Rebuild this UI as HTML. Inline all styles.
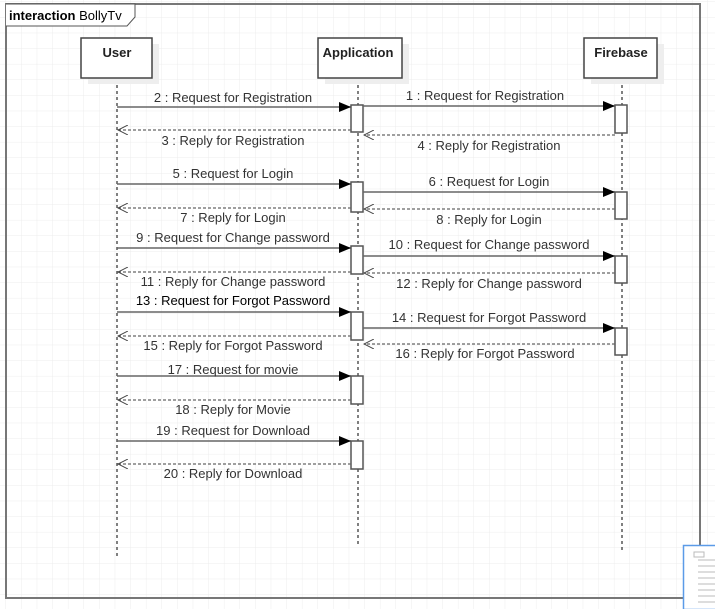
<!DOCTYPE html>
<html><head><style>body{margin:0;background:#fff}</style></head><body>
<svg width="715" height="609" xmlns="http://www.w3.org/2000/svg" font-family="Liberation Sans, sans-serif" font-size="13" fill="#333">
<defs>
<pattern id="g" width="15.6" height="15.6" patternUnits="userSpaceOnUse" x="6" y="2"><path d="M15.6 0V15.6H0" fill="none" stroke="#ececec" stroke-width="1"/></pattern>
<marker id="f" markerWidth="12" markerHeight="10" refX="12" refY="5" orient="auto" markerUnits="userSpaceOnUse"><path d="M0 0L12 5L0 10z" fill="#000"/></marker>
<marker id="o" markerWidth="11" markerHeight="10" refX="10" refY="5" orient="auto" markerUnits="userSpaceOnUse"><path d="M0 0L10 5L0 10" fill="none" stroke="#444" stroke-width="1"/></marker>
</defs>
<rect width="715" height="609" fill="url(#g)"/>
<rect x="6" y="4" width="694" height="594" fill="none" stroke="#777" stroke-width="2"/>
<path d="M6 4H135V17L127 26H6" fill="#fff" stroke="#555" stroke-width="1"/>
<text x="9" y="20" font-size="13" fill="#000"><tspan font-weight="bold">interaction</tspan> BollyTv</text>
<g stroke="#000" stroke-dasharray="3,3" stroke-width="1">
<line x1="117" y1="79" x2="117" y2="556"/><line x1="358" y1="79" x2="358" y2="545"/><line x1="622" y1="79" x2="622" y2="550"/>
</g>
<g fill="#eee"><rect x="88" y="44" width="71" height="40"/><rect x="325" y="44" width="84" height="40"/><rect x="591" y="44" width="73" height="40"/></g>
<g fill="#fff" stroke="#444" stroke-width="1.5"><rect x="81" y="38" width="71" height="40"/><rect x="318" y="38" width="84" height="40"/><rect x="584" y="38" width="73" height="40"/></g>
<g font-weight="bold" font-size="13" fill="#222" text-anchor="middle"><text x="117" y="57">User</text><text x="358" y="57">Application</text><text x="621" y="57">Firebase</text></g>
<g fill="#fff" stroke="#555" stroke-width="1.5">
<rect x="351" y="105" width="12" height="27"/><rect x="615" y="105" width="12" height="28"/>
<rect x="351" y="182" width="12" height="30"/><rect x="615" y="192" width="12" height="27"/>
<rect x="351" y="246" width="12" height="28"/><rect x="615" y="256" width="12" height="27"/>
<rect x="351" y="312" width="12" height="28"/><rect x="615" y="328" width="12" height="27"/>
<rect x="351" y="376" width="12" height="28"/><rect x="351" y="441" width="12" height="28"/>
</g>
<g stroke="#666" stroke-width="1.5" marker-end="url(#f)">
<line x1="117" y1="107" x2="351" y2="107"/><line x1="363" y1="106" x2="615" y2="106"/>
<line x1="117" y1="184" x2="351" y2="184"/><line x1="363" y1="192" x2="615" y2="192"/>
<line x1="117" y1="248" x2="351" y2="248"/><line x1="363" y1="256" x2="615" y2="256"/>
<line x1="117" y1="312" x2="351" y2="312"/><line x1="363" y1="328" x2="615" y2="328"/>
<line x1="117" y1="376" x2="351" y2="376"/><line x1="117" y1="441" x2="351" y2="441"/>
</g>
<g stroke="#666" stroke-width="1.2" stroke-dasharray="3,2" marker-end="url(#o)">
<line x1="351" y1="130" x2="118" y2="130"/><line x1="615" y1="135" x2="364" y2="135"/>
<line x1="351" y1="208" x2="118" y2="208"/><line x1="615" y1="209" x2="364" y2="209"/>
<line x1="351" y1="272" x2="118" y2="272"/><line x1="615" y1="273" x2="364" y2="273"/>
<line x1="351" y1="336" x2="118" y2="336"/><line x1="615" y1="344" x2="364" y2="344"/>
<line x1="351" y1="400" x2="118" y2="400"/><line x1="351" y1="464" x2="118" y2="464"/>
</g>
<g text-anchor="middle">
<text x="233" y="102">2 : Request for Registration</text><text x="485" y="100">1 : Request for Registration</text>
<text x="233" y="145">3 : Reply for Registration</text><text x="489" y="150">4 : Reply for Registration</text>
<text x="233" y="178">5 : Request for Login</text><text x="489" y="186">6 : Request for Login</text>
<text x="233" y="222">7 : Reply for Login</text><text x="489" y="224">8 : Reply for Login</text>
<text x="233" y="242">9 : Request for Change password</text><text x="489" y="249">10 : Request for Change password</text>
<text x="233" y="286">11 : Reply for Change password</text><text x="489" y="288">12 : Reply for Change password</text>
<text x="233" y="305" fill="#000">13 : Request for Forgot Password</text><text x="489" y="322">14 : Request for Forgot Password</text>
<text x="233" y="350">15 : Reply for Forgot Password</text><text x="485" y="358">16 : Reply for Forgot Password</text>
<text x="233" y="374">17 : Request for movie</text><text x="233" y="414">18 : Reply for Movie</text>
<text x="233" y="435">19 : Request for Download</text><text x="233" y="478">20 : Reply for Download</text>
</g>
<rect x="683.5" y="545.5" width="33" height="64" fill="#fff" stroke="#5b9be8" stroke-width="1.5"/>
<g stroke="#bbb" stroke-width="1"><rect x="694" y="552" width="10" height="5" fill="none"/>
<line x1="698" y1="560" x2="715" y2="560"/><line x1="698" y1="566" x2="715" y2="566"/><line x1="698" y1="572" x2="715" y2="572"/><line x1="698" y1="578" x2="715" y2="578"/><line x1="698" y1="584" x2="715" y2="584"/><line x1="698" y1="590" x2="715" y2="590"/><line x1="698" y1="596" x2="715" y2="596"/><line x1="698" y1="602" x2="715" y2="602"/></g>
</svg>
</body></html>
